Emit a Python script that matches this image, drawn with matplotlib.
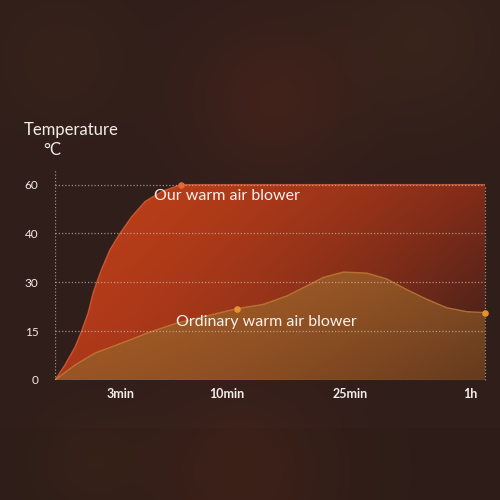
import numpy as np
import matplotlib
matplotlib.use("Agg")
import matplotlib.pyplot as plt

# --- data (time in minutes, temperature in °C) ---
our_time = [0, 0.45, 0.91, 1.21, 1.51, 1.74, 1.90, 2.12, 2.5, 2.95,
            3.71, 4.59, 5.69, 6.96, 65]
our_temp = [0, 4.6, 10.1, 15, 20.7, 26.9, 30, 32.7, 36.7, 40,
            46.9, 53.1, 57.2, 60, 60]

ord_time = [0, 0.91, 1.82, 3.03, 4.78, 6.56, 7.88, 11.18, 14.39, 17.28,
            19.72, 21.74, 24.18, 29.87, 35.7, 41.5, 47.4, 53.2, 59.0, 65]
ord_temp = [0, 4.6, 8.3, 11.3, 14.5, 17.3, 18.8, 21.9, 23.2, 25.8,
            28.9, 31.0, 32.1, 31.9, 30.7, 27.8, 24.8, 22.2, 21.0, 20.7]

our_marker = (6.96, 60)
ord_markers = [(11.18, 21.9), (65, 20.7)]

x_ticks = [3, 10, 25, 60]
x_labels = ["3min", "10min", "25min", "1h"]
y_ticks = [0, 15, 30, 40, 60]
y_labels = ["0", "15", "30", "40", "60"]

# uneven axes: ticks are evenly spaced on screen
x_anchor_min = [0, 3, 10, 25, 60, 65, 200]
x_anchor_pos = [0, 66, 172, 295, 415, 430, 1000]
y_anchor_val = [0, 15, 30, 40, 60, 80]
y_anchor_pos = [0, 1, 2, 3, 4, 5]


def fx(v):
    return np.interp(v, x_anchor_min, x_anchor_pos)


def ix(v):
    return np.interp(v, x_anchor_pos, x_anchor_min)


def fy(v):
    return np.interp(v, y_anchor_val, y_anchor_pos)


def iy(v):
    return np.interp(v, y_anchor_pos, y_anchor_val)


plt.rcParams["font.family"] = ["Lato", "DejaVu Sans"]

fig = plt.figure(figsize=(5, 5), dpi=100)

# background
H, W = 500, 500
yy, xx = np.mgrid[0:H, 0:W]
bg = np.zeros((H, W, 3))
bg[..., 0] = 48
bg[..., 1] = 30
bg[..., 2] = 26
blobs = [(270, 100, 60, (16, 4, 0)), (240, 470, 70, (14, 4, 0)),
         (420, 40, 60, (8, 6, 2)), (60, 60, 50, (6, 4, 0)),
         (90, 460, 40, (6, 4, 0))]
for cx, cy, r, col in blobs:
    g = np.exp(-((xx - cx) ** 2 + (yy - cy) ** 2) / (2 * r ** 2))
    for k in range(3):
        bg[..., k] += col[k] * g
bg[428:, :, :] *= 0.96
bg_ax = fig.add_axes([0, 0, 1, 1], zorder=-10)
bg_ax.imshow(np.clip(bg, 0, 255).astype(np.uint8), aspect="auto")
bg_ax.axis("off")

ax = fig.add_axes([0.11, 0.24, 0.86, 0.42])
ax.patch.set_alpha(0)
ax.set_xscale("function", functions=(fx, ix))
ax.set_yscale("function", functions=(fy, iy))
ax.set_xlim(0, 65)
ax.set_ylim(0, 66)

for s in ax.spines.values():
    s.set_visible(False)

grid_kw = dict(color="#c8bdb5", linestyle=(0, (1, 1.6)), linewidth=0.9, alpha=0.7)
for t in y_ticks:
    ax.axhline(t, zorder=5, **grid_kw)
ax.axvline(0, zorder=5, **grid_kw)
ax.plot([65, 65], [0, 60], zorder=5, clip_on=False, **grid_kw)


def gradient_fill(x, y, c_tl, c_tr, c_bl, c_br, z):
    poly = ax.fill_between(x, y, 0, color="none", zorder=z)
    n = 200
    gx = np.linspace(0, 1, n)[None, :, None] ** 1.6
    gy = np.linspace(1, 0, n)[:, None, None]  # 1 at top
    tl, tr, bl, br = (np.array(c)[None, None, :] for c in (c_tl, c_tr, c_bl, c_br))
    top = tl * (1 - gx) + tr * gx
    bot = bl * (1 - gx) + br * gx
    img = top * gy + bot * (1 - gy)
    im = ax.imshow(np.clip(img / 255, 0, 1), extent=(0, 1, 0, 1),
                   transform=ax.transAxes, aspect="auto", zorder=z,
                   interpolation="bilinear")
    im.set_clip_path(poly.get_paths()[0], ax.transData)
    return poly


gradient_fill(our_time, our_temp,
              (192, 64, 25), (135, 44, 24), (172, 56, 25), (55, 30, 26), 2)
ax.plot(our_time, our_temp, color="#d8603c", lw=1, alpha=0.8, zorder=3,
        solid_joinstyle="round")

gradient_fill(ord_time, ord_temp,
              (190, 108, 42), (165, 96, 40), (152, 84, 36), (100, 58, 30), 3)
ax.plot(ord_time, ord_temp, color="#c98440", lw=1, alpha=0.7, zorder=4,
        solid_joinstyle="round")

ax.scatter([our_marker[0]], [our_marker[1]], s=14, color="#e8663c", zorder=6, clip_on=False)
ax.scatter([p[0] for p in ord_markers], [p[1] for p in ord_markers], s=14,
           color="#e8922e", zorder=6, clip_on=False)

ax.set_xticks(x_ticks)
ax.set_xticklabels(x_labels)
ax.set_yticks(y_ticks)
ax.set_yticklabels(y_labels)
ax.tick_params(axis="both", length=0, colors="#f2ede8")
ax.tick_params(axis="y", pad=12, labelsize=8.5)
ax.tick_params(axis="x", pad=6, labelsize=9)
for lab in ax.get_xticklabels():
    lab.set_fontweight("bold")

fig.text(0.142, 0.74, "Temperature", color="#f2ede8", fontsize=12,
         ha="center", va="center")
fig.text(0.104, 0.70, "°C", color="#f2ede8", fontsize=12, ha="center", va="center")
fig.text(0.308, 0.608, "Our warm air blower", color="#f7f2ee", fontsize=11.5,
         ha="left", va="center", zorder=10)
fig.text(0.352, 0.356, "Ordinary warm air blower", color="#f7f2ee", fontsize=11.5,
         ha="left", va="center", zorder=10)

fig.savefig("out.png", dpi=100)
